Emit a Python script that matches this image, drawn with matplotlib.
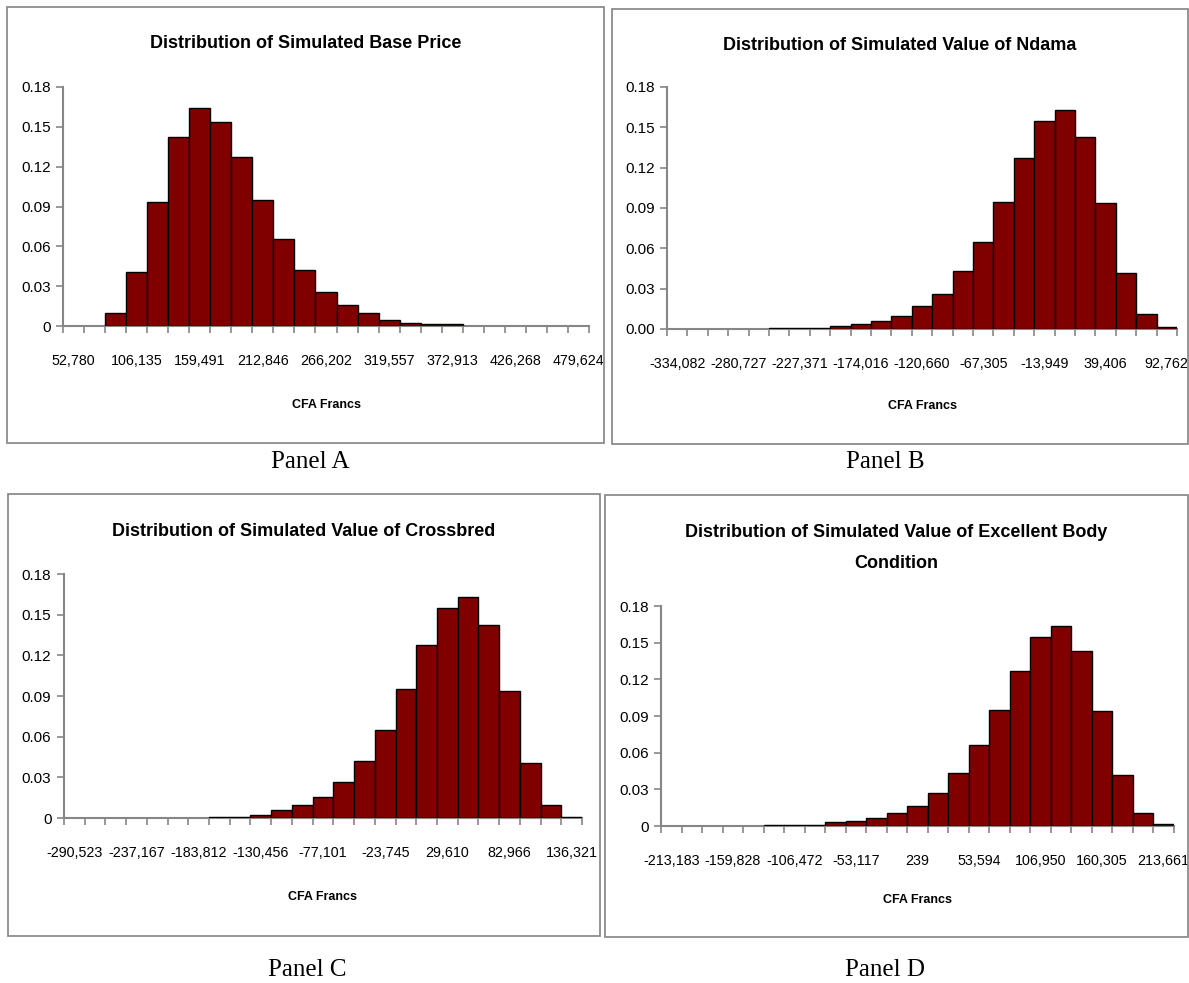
import numpy as np
import matplotlib
matplotlib.use("Agg")
import matplotlib.pyplot as plt
from matplotlib.patches import Rectangle

W, H = 1189, 983
SANS = ["Liberation Sans", "DejaVu Sans"]
SERIF = ["Liberation Serif", "DejaVu Serif"]

# --- data (relative frequency per bin, 25 bins each) ---
labels_a = ["52,780", "106,135", "159,491", "212,846", "266,202", "319,557", "372,913", "426,268", "479,624"]
freq_a = [0, 0, 0.0096, 0.0405, 0.0935, 0.142, 0.164, 0.154, 0.127, 0.095, 0.0655, 0.0418, 0.0258,
          0.016, 0.0096, 0.0048, 0.0023, 0.0012, 0.0012, 0, 0, 0, 0, 0, 0]

labels_b = ["-334,082", "-280,727", "-227,371", "-174,016", "-120,660", "-67,305", "-13,949", "39,406", "92,762"]
freq_b = [0, 0, 0, 0, 0, 0.0008, 0.0008, 0.0008, 0.0025, 0.0037, 0.006, 0.0097, 0.0172, 0.0264,
          0.0433, 0.0649, 0.0947, 0.127, 0.1547, 0.163, 0.143, 0.0937, 0.0418, 0.0109, 0.0012]

labels_c = ["-290,523", "-237,167", "-183,812", "-130,456", "-77,101", "-23,745", "29,610", "82,966", "136,321"]
freq_c = [0, 0, 0, 0, 0, 0, 0, 0.0008, 0.0008, 0.0022, 0.0059, 0.0093, 0.0155, 0.0263, 0.0417,
          0.0648, 0.0948, 0.1275, 0.155, 0.163, 0.1427, 0.0936, 0.0405, 0.0096, 0.001]

labels_d = ["-213,183", "-159,828", "-106,472", "-53,117", "239", "53,594", "106,950", "160,305", "213,661"]
freq_d = [0, 0, 0, 0, 0, 0.0008, 0.0008, 0.0008, 0.003, 0.004, 0.0063, 0.0104, 0.0164, 0.0267,
          0.0431, 0.066, 0.0949, 0.1268, 0.1544, 0.1634, 0.1432, 0.0938, 0.042, 0.0104, 0.0014]

yticks = [0, 0.03, 0.06, 0.09, 0.12, 0.15, 0.18]

panels = [
    # title, labels, freqs, zero label, axes px (l, r, top, bottom), box px, panel name + pos, title y, xlabel y
    ("Distribution of Simulated Base Price", labels_a, freq_a, "0",
     (63, 589, 87, 326), (7, 604, 7, 443), "Panel A", (310, 462), 44, 405),
    ("Distribution of Simulated Value of Ndama", labels_b, freq_b, "0.00",
     (667, 1177, 87, 329), (612, 1188, 9, 444), "Panel B", (885, 462), 45, 406),
    ("Distribution of Simulated Value of Crossbred", labels_c, freq_c, "0",
     (64, 582, 574, 818), (8, 600, 494, 936), "Panel C", (307, 970), 531, 897),
    ("Distribution of Simulated Value of Excellent Body\nCondition", labels_d, freq_d, "0",
     (661, 1174, 606, 826), (605, 1188, 495, 937), "Panel D", (885, 970), 548, 900),
]

fig = plt.figure(figsize=(W / 100, H / 100), dpi=100)
fig.patch.set_facecolor("white")

for title, labs, freq, zlab, (l, r, t, b), (bl, br, bt, bb), pname, (px, py), ty, cy in panels:
    # chart frame
    fig.add_artist(Rectangle((bl / W, 1 - bb / H), (br - bl) / W, (bb - bt) / H,
                             transform=fig.transFigure, fill=False, edgecolor="#8c8c8c", lw=1.3))
    ax = fig.add_axes([l / W, 1 - b / H, (r - l) / W, (b - t) / H])
    x = np.arange(len(freq))
    f = np.array(freq)
    m = f > 0
    ax.bar(x[m], f[m], width=1.0, color="#800000", edgecolor="black", linewidth=1.0, zorder=2)
    ax.set_xlim(-0.5, len(freq) - 0.5)
    ax.set_ylim(0, 0.18)
    for s in ["top", "right"]:
        ax.spines[s].set_visible(False)
    for s in ["left", "bottom"]:
        ax.spines[s].set_color("#868686")
        ax.spines[s].set_linewidth(1.5)
        ax.spines[s].set_zorder(1)
    ax.set_yticks(yticks)
    ax.set_yticklabels([zlab] + ["%.2f" % v for v in yticks[1:]], fontfamily=SANS, fontsize=11)
    ax.tick_params(axis="y", direction="out", length=5, width=1.2, color="#868686", pad=4)
    # tick marks at bin edges, labels every third bin
    ax.set_xticks(np.arange(len(freq) + 1) - 0.5)
    ax.set_xticklabels([])
    ax.tick_params(axis="x", which="major", direction="out", length=5, width=1.2, color="#868686")
    ax.set_xticks(np.arange(0, len(freq), 3), minor=True)
    ax.set_xticklabels(labs, minor=True, fontfamily=SANS, fontsize=10.3)
    ax.tick_params(axis="x", which="minor", length=0, pad=20)
    ax.patch.set_alpha(0)

    fig.text((bl + br) / 2 / W, 1 - ty / H, title, ha="center", va="center", fontfamily=SANS,
             fontsize=13, fontweight="bold", linespacing=2.15)
    fig.text((l + r) / 2 / W, 1 - cy / H, "CFA Francs", ha="center", va="center", fontfamily=SANS,
             fontsize=9, fontweight="bold")
    fig.text(px / W, 1 - py / H, pname, ha="center", va="center", fontfamily=SERIF, fontsize=18)

fig.savefig("out.png", dpi=100, facecolor="white")
